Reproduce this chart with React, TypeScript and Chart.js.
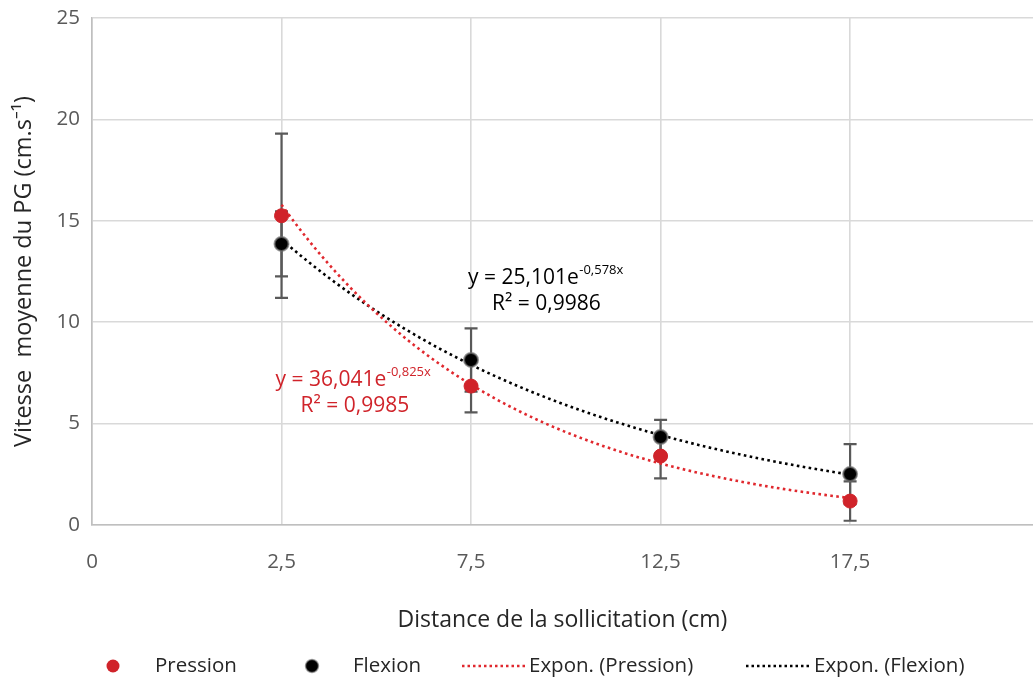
import React, { useEffect, useRef } from "react";
import { Chart, registerables } from "chart.js";

Chart.register(...registerables);

// ---------- data ----------
const xTickLabels = ["0", "2,5", "7,5", "12,5", "17,5"];
const xPositions = [1, 2, 3, 4];
const pression = [15.25, 6.85, 3.4, 1.18];
const flexion = [13.86, 8.14, 4.34, 2.51];
const pressionErr = [4.05, 1.3, 1.1, 0.97];
const flexionErr = [1.6, 1.56, 0.84, 1.48];
// exponential trendline coefficients y = a * e^(b x), as displayed on the chart
const pressionFit = [36.041, -0.825];
const flexionFit = [25.101, -0.578];
const pressionR2 = "0,9985";
const flexionR2 = "0,9986";
const yTicks = [0, 5, 10, 15, 20, 25];

const FONT = '"Open Sans", "Noto Sans", sans-serif';
const RED = "#D0232A";
const RED_LINE = "#E0282E";
const BLACK = "#000000";
const GRID = "#D9D9D9";
const TEXT = "#595959";
const TITLE = "#262626";

function trend(fit: number[]) {
  const pts: { x: number; y: number }[] = [];
  const n = 90;
  for (let i = 0; i <= n; i++) {
    const x = xPositions[0] + ((xPositions[xPositions.length - 1] - xPositions[0]) * i) / n;
    pts.push({ x, y: fit[0] * Math.exp(fit[1] * x) });
  }
  return pts;
}

const fmt = (v: number) => String(v).replace(".", ",");

const errorBarPlugin = {
  id: "errorBars",
  beforeDatasetsDraw(chart: any) {
    const { ctx, scales } = chart;
    const xs = scales.x;
    const ys = scales.y;
    ctx.save();
    ctx.strokeStyle = "#595959";
    ctx.lineWidth = 2.2;
    const draw = (vals: number[], errs: number[]) => {
      vals.forEach((v, i) => {
        const px = xs.getPixelForValue(xPositions[i]);
        const top = ys.getPixelForValue(v + errs[i]);
        const bot = ys.getPixelForValue(v - errs[i]);
        ctx.beginPath();
        ctx.moveTo(px, top);
        ctx.lineTo(px, bot);
        ctx.moveTo(px - 6.5, top);
        ctx.lineTo(px + 6.5, top);
        ctx.moveTo(px - 6.5, bot);
        ctx.lineTo(px + 6.5, bot);
        ctx.stroke();
      });
    };
    draw(pression, pressionErr);
    draw(flexion, flexionErr);
    ctx.restore();
  },
};

function drawEquation(
  ctx: CanvasRenderingContext2D,
  x: number,
  y: number,
  fit: number[],
  r2: string,
  r2x: number,
  color: string
) {
  ctx.fillStyle = color;
  ctx.textBaseline = "alphabetic";
  ctx.textAlign = "left";
  ctx.font = `21px ${FONT}`;
  const main = `y = ${fmt(fit[0])}e`;
  ctx.fillText(main, x, y);
  const w = ctx.measureText(main).width;
  ctx.font = `13px ${FONT}`;
  ctx.fillText(`${fmt(fit[1])}x`, x + w + 0.5, y - 10);
  ctx.font = `21px ${FONT}`;
  ctx.fillText(`R² = ${r2}`, r2x, y + 25.5);
}

const annotationPlugin = {
  id: "equations",
  afterDatasetsDraw(chart: any) {
    const { ctx, scales } = chart;
    const xs = scales.x;
    const ys = scales.y;
    ctx.save();
    const fx = xs.getPixelForValue(2) - 3;
    const fy = ys.getPixelForValue(11.88);
    drawEquation(ctx, fx, fy, flexionFit, flexionR2, fx + 24, BLACK);
    const px = xs.getPixelForValue(1) - 6;
    const py = ys.getPixelForValue(6.85);
    drawEquation(ctx, px, py, pressionFit, pressionR2, px + 25, RED);
    ctx.restore();
  },
};

const legendPlugin = {
  id: "customLegend",
  afterDraw(chart: any) {
    const { ctx } = chart;
    const y = 666;
    ctx.save();
    ctx.font = `20.5px ${FONT}`;
    ctx.textBaseline = "middle";
    ctx.textAlign = "left";
    ctx.beginPath();
    ctx.arc(113, y, 6.5, 0, Math.PI * 2);
    ctx.fillStyle = RED;
    ctx.fill();
    ctx.fillStyle = TITLE;
    ctx.fillText("Pression", 155, y);
    ctx.beginPath();
    ctx.arc(312, y, 6.5, 0, Math.PI * 2);
    ctx.fillStyle = BLACK;
    ctx.fill();
    ctx.strokeStyle = "rgba(128,128,128,0.6)";
    ctx.lineWidth = 1.5;
    ctx.stroke();
    ctx.fillStyle = TITLE;
    ctx.fillText("Flexion", 353, y);
    ctx.lineWidth = 2.5;
    ctx.setLineDash([2.5, 3]);
    ctx.strokeStyle = RED_LINE;
    ctx.beginPath();
    ctx.moveTo(462, y);
    ctx.lineTo(525, y);
    ctx.stroke();
    ctx.strokeStyle = BLACK;
    ctx.beginPath();
    ctx.moveTo(746, y);
    ctx.lineTo(810, y);
    ctx.stroke();
    ctx.setLineDash([]);
    ctx.fillStyle = TITLE;
    ctx.fillText("Expon. (Pression)", 529, y);
    ctx.fillText("Expon. (Flexion)", 814, y);
    ctx.restore();
  },
};

export default function App() {
  const ref = useRef<HTMLCanvasElement | null>(null);

  useEffect(() => {
    if (!ref.current) return;
    const chart = new Chart(ref.current, {
      type: "scatter",
      data: {
        datasets: [
          {
            label: "Pression",
            data: xPositions.map((x, i) => ({ x, y: pression[i] })),
            backgroundColor: RED,
            borderColor: RED,
            borderWidth: 1,
            pointRadius: 7,
            showLine: false,
          },
          {
            label: "Flexion",
            data: xPositions.map((x, i) => ({ x, y: flexion[i] })),
            backgroundColor: BLACK,
            borderColor: "rgba(110,110,110,0.7)",
            borderWidth: 2,
            pointRadius: 7,
            showLine: false,
          },
          {
            label: "Expon. (Pression)",
            data: trend(pressionFit),
            borderColor: RED_LINE,
            borderWidth: 2.6,
            borderDash: [2.6, 3.4],
            pointRadius: 0,
            showLine: true,
            fill: false,
          },
          {
            label: "Expon. (Flexion)",
            data: trend(flexionFit),
            borderColor: BLACK,
            borderWidth: 2.6,
            borderDash: [2.6, 3.4],
            pointRadius: 0,
            showLine: true,
            fill: false,
          },
        ],
      },
      options: {
        animation: false,
        responsive: true,
        maintainAspectRatio: false,
        layout: { autoPadding: false, padding: { top: 18, right: 0, bottom: 0, left: 0 } },
        plugins: {
          legend: { display: false },
          tooltip: { enabled: false },
        },
        scales: {
          x: {
            type: "linear",
            min: 0,
            max: 4.965,
            afterBuildTicks: (s: any) => {
              s.ticks = xTickLabels.map((_, i) => ({ value: i }));
            },
            afterFit: (s: any) => {
              s.height = 157;
              s.paddingLeft = 0;
              s.paddingRight = 0;
            },
            grid: { color: GRID, lineWidth: 1.6, drawTicks: false },
            border: { color: "#BFBFBF", width: 1.6 },
            ticks: {
              padding: 25,
              color: TEXT,
              font: { family: FONT, size: 20.5 },
              callback: (v: any) => xTickLabels[Math.round(Number(v))] ?? "",
              maxRotation: 0,
              autoSkip: false,
            },
            title: {
              display: true,
              text: "Distance de la sollicitation (cm)",
              color: TITLE,
              font: { family: FONT, size: 23 },
              padding: { top: 0, bottom: 48 },
            },
          },
          y: {
            min: 0,
            max: 25,
            afterBuildTicks: (s: any) => {
              s.ticks = yTicks.map((v) => ({ value: v }));
            },
            afterFit: (s: any) => {
              s.width = 92;
              s.paddingTop = 0;
              s.paddingBottom = 0;
            },
            grid: { color: GRID, lineWidth: 1.6, drawTicks: false },
            border: { color: "#BFBFBF", width: 1.6 },
            ticks: {
              padding: 12,
              color: TEXT,
              font: { family: FONT, size: 20.5 },
            },
            title: {
              display: true,
              text: "Vitesse  moyenne du PG (cm.s⁻¹)",
              color: TITLE,
              font: { family: FONT, size: 23.5 },
              padding: { top: 10, bottom: 0 },
            },
          },
        },
      },
      plugins: [errorBarPlugin, annotationPlugin, legendPlugin],
    });
    return () => chart.destroy();
  }, []);

  return (
    <div style={{ position: "absolute", left: 0, top: 0, width: 1033, height: 682, background: "#fff" }}>
      <canvas ref={ref} />
    </div>
  );
}
